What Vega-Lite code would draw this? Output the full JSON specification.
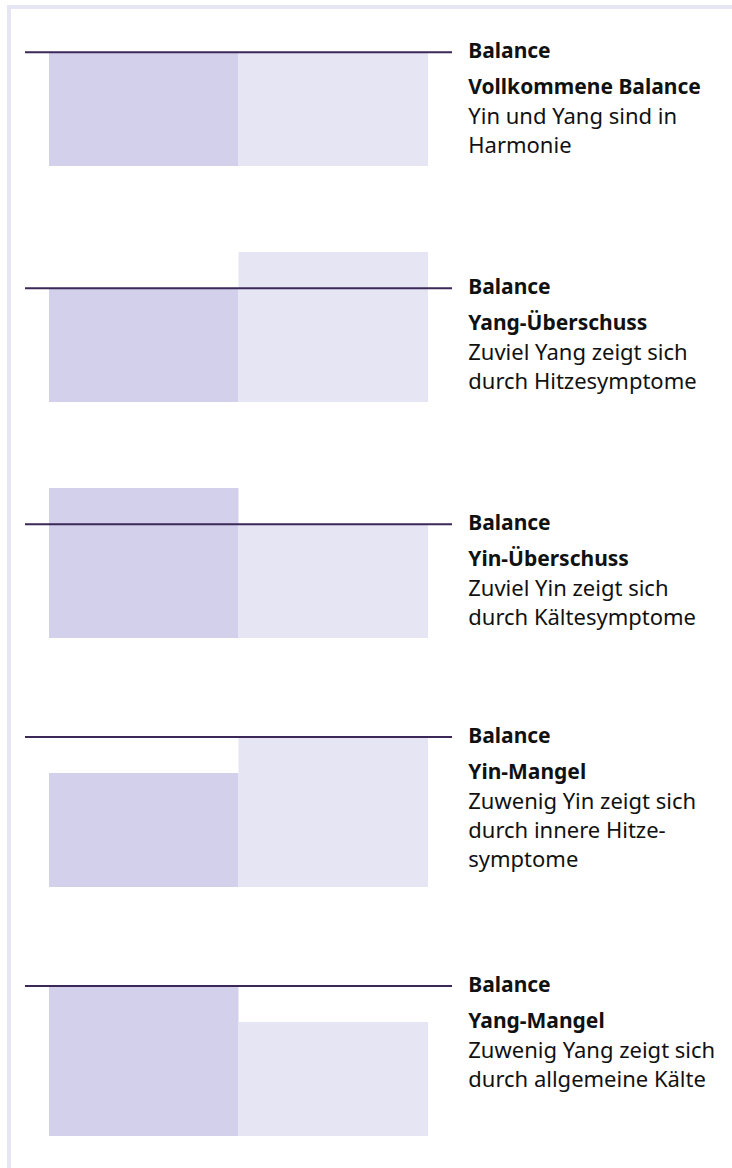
{
  "$schema": "https://vega.github.io/schema/vega-lite/v6.json",
  "padding": {"left": 7, "top": 5, "right": 0, "bottom": 0},
  "autosize": {"type": "pad"},
  "background": "white",
  "config": {
    "view": {"stroke": null},
    "text": {"font": "Noto Sans", "fontSize": 22, "color": "#111111"}
  },
  "datasets": {
    "bars": [
      {"panel": 1, "seite": "Yin", "wert": 100},
      {"panel": 1, "seite": "Yang", "wert": 100},
      {"panel": 2, "seite": "Yin", "wert": 100},
      {"panel": 2, "seite": "Yang", "wert": 132},
      {"panel": 3, "seite": "Yin", "wert": 132},
      {"panel": 3, "seite": "Yang", "wert": 100},
      {"panel": 4, "seite": "Yin", "wert": 76},
      {"panel": 4, "seite": "Yang", "wert": 100},
      {"panel": 5, "seite": "Yin", "wert": 100},
      {"panel": 5, "seite": "Yang", "wert": 76}
    ],
    "labels": [
      {"panel": 1, "balance": 100, "name": "Balance", "titel": "Vollkommene Balance", "text": "Yin und Yang sind in\nHarmonie"},
      {"panel": 2, "balance": 100, "name": "Balance", "titel": "Yang-Überschuss", "text": "Zuviel Yang zeigt sich\ndurch Hitzesymptome"},
      {"panel": 3, "balance": 100, "name": "Balance", "titel": "Yin-Überschuss", "text": "Zuviel Yin zeigt sich\ndurch Kältesymptome"},
      {"panel": 4, "balance": 100, "name": "Balance", "titel": "Yin-Mangel", "text": "Zuwenig Yin zeigt sich\ndurch innere Hitze-\nsymptome"},
      {"panel": 5, "balance": 100, "name": "Balance", "titel": "Yang-Mangel", "text": "Zuwenig Yang zeigt sich\ndurch allgemeine Kälte"}
    ],
    "blank": [{"x": 0}]
  },
  "spacing": 0,
  "bounds": "flush",
  "vconcat": [
    {
      "width": 725, "height": 4,
      "view": {"fill": "#e6e5f4", "stroke": null},
      "data": {"name": "blank"},
      "mark": {"type": "text", "fontSize": 0},
      "encoding": {"text": {"value": ""}}
    },
    {
      "spacing": 14,
      "bounds": "flush",
      "hconcat": [
        {
          "width": 4, "height": 1159,
          "view": {"fill": "#e6e5f4", "stroke": null},
          "data": {"name": "blank"},
          "mark": {"type": "text", "fontSize": 0},
          "encoding": {"text": {"value": ""}}
        },
        {
          "spacing": 86,
          "bounds": "flush",
          "vconcat": [
            {
              "width": 427, "height": 157,
              "layer": [
                {"data": {"name": "bars"}, "transform": [{"filter": "datum.panel == 1"}], "mark": {"type": "bar"},
                 "encoding": {
                   "x": {"field": "seite", "type": "nominal", "sort": ["Yin", "Yang"], "scale": {"paddingInner": 0, "paddingOuter": 0.1266}, "axis": null},
                   "y": {"field": "wert", "type": "quantitative", "scale": {"domain": [0, 138], "nice": false, "zero": true}, "axis": null},
                   "color": {"field": "seite", "type": "nominal", "scale": {"domain": ["Yin", "Yang"], "range": ["#d3d0eb", "#e6e5f4"]}, "legend": null}}},
                {"data": {"name": "labels"}, "transform": [{"filter": "datum.panel == 1"}], "mark": {"type": "rule", "color": "#3b2858", "strokeWidth": 2},
                 "encoding": {"y": {"field": "balance", "type": "quantitative"}}},
                {"data": {"name": "labels"}, "transform": [{"filter": "datum.panel == 1"}], "mark": {"type": "text", "align": "left", "baseline": "middle", "fontWeight": "bold", "fontSize": 21, "dx": 135},
                 "encoding": {"x": {"datum": "Yang", "type": "nominal"}, "y": {"field": "balance", "type": "quantitative"}, "text": {"field": "name"}}},
                {"data": {"name": "labels"}, "transform": [{"filter": "datum.panel == 1"}], "mark": {"type": "text", "align": "left", "baseline": "alphabetic", "fontWeight": "bold", "fontSize": 21, "dx": 135, "dy": 42},
                 "encoding": {"x": {"datum": "Yang", "type": "nominal"}, "y": {"field": "balance", "type": "quantitative"}, "text": {"field": "titel"}}},
                {"data": {"name": "labels"}, "transform": [{"filter": "datum.panel == 1"}], "mark": {"type": "text", "align": "left", "baseline": "alphabetic", "dx": 135, "dy": 72, "lineBreak": "\n", "lineHeight": 29},
                 "encoding": {"x": {"datum": "Yang", "type": "nominal"}, "y": {"field": "balance", "type": "quantitative"}, "text": {"field": "text"}}}
              ]
            },
            {
              "width": 427, "height": 150,
              "layer": [
                {"data": {"name": "bars"}, "transform": [{"filter": "datum.panel == 2"}], "mark": {"type": "bar"},
                 "encoding": {
                   "x": {"field": "seite", "type": "nominal", "sort": ["Yin", "Yang"], "scale": {"paddingInner": 0, "paddingOuter": 0.1266}, "axis": null},
                   "y": {"field": "wert", "type": "quantitative", "scale": {"domain": [0, 132], "nice": false, "zero": true}, "axis": null},
                   "color": {"field": "seite", "type": "nominal", "scale": {"domain": ["Yin", "Yang"], "range": ["#d3d0eb", "#e6e5f4"]}, "legend": null}}},
                {"data": {"name": "labels"}, "transform": [{"filter": "datum.panel == 2"}], "mark": {"type": "rule", "color": "#3b2858", "strokeWidth": 2},
                 "encoding": {"y": {"field": "balance", "type": "quantitative"}}},
                {"data": {"name": "labels"}, "transform": [{"filter": "datum.panel == 2"}], "mark": {"type": "text", "align": "left", "baseline": "middle", "fontWeight": "bold", "fontSize": 21, "dx": 135},
                 "encoding": {"x": {"datum": "Yang", "type": "nominal"}, "y": {"field": "balance", "type": "quantitative"}, "text": {"field": "name"}}},
                {"data": {"name": "labels"}, "transform": [{"filter": "datum.panel == 2"}], "mark": {"type": "text", "align": "left", "baseline": "alphabetic", "fontWeight": "bold", "fontSize": 21, "dx": 135, "dy": 42},
                 "encoding": {"x": {"datum": "Yang", "type": "nominal"}, "y": {"field": "balance", "type": "quantitative"}, "text": {"field": "titel"}}},
                {"data": {"name": "labels"}, "transform": [{"filter": "datum.panel == 2"}], "mark": {"type": "text", "align": "left", "baseline": "alphabetic", "dx": 135, "dy": 72, "lineBreak": "\n", "lineHeight": 29},
                 "encoding": {"x": {"datum": "Yang", "type": "nominal"}, "y": {"field": "balance", "type": "quantitative"}, "text": {"field": "text"}}}
              ]
            },
            {
              "spacing": 99,
              "bounds": "flush",
              "vconcat": [
                {
                  "width": 427, "height": 150,
                  "layer": [
                    {"data": {"name": "bars"}, "transform": [{"filter": "datum.panel == 3"}], "mark": {"type": "bar"},
                     "encoding": {
                       "x": {"field": "seite", "type": "nominal", "sort": ["Yin", "Yang"], "scale": {"paddingInner": 0, "paddingOuter": 0.1266}, "axis": null},
                       "y": {"field": "wert", "type": "quantitative", "scale": {"domain": [0, 132], "nice": false, "zero": true}, "axis": null},
                       "color": {"field": "seite", "type": "nominal", "scale": {"domain": ["Yin", "Yang"], "range": ["#d3d0eb", "#e6e5f4"]}, "legend": null}}},
                    {"data": {"name": "labels"}, "transform": [{"filter": "datum.panel == 3"}], "mark": {"type": "rule", "color": "#3b2858", "strokeWidth": 2},
                     "encoding": {"y": {"field": "balance", "type": "quantitative"}}},
                    {"data": {"name": "labels"}, "transform": [{"filter": "datum.panel == 3"}], "mark": {"type": "text", "align": "left", "baseline": "middle", "fontWeight": "bold", "fontSize": 21, "dx": 135},
                     "encoding": {"x": {"datum": "Yang", "type": "nominal"}, "y": {"field": "balance", "type": "quantitative"}, "text": {"field": "name"}}},
                    {"data": {"name": "labels"}, "transform": [{"filter": "datum.panel == 3"}], "mark": {"type": "text", "align": "left", "baseline": "alphabetic", "fontWeight": "bold", "fontSize": 21, "dx": 135, "dy": 42},
                     "encoding": {"x": {"datum": "Yang", "type": "nominal"}, "y": {"field": "balance", "type": "quantitative"}, "text": {"field": "titel"}}},
                    {"data": {"name": "labels"}, "transform": [{"filter": "datum.panel == 3"}], "mark": {"type": "text", "align": "left", "baseline": "alphabetic", "dx": 135, "dy": 72, "lineBreak": "\n", "lineHeight": 29},
                     "encoding": {"x": {"datum": "Yang", "type": "nominal"}, "y": {"field": "balance", "type": "quantitative"}, "text": {"field": "text"}}}
                  ]
                },
                {
                  "width": 427, "height": 150,
                  "layer": [
                    {"data": {"name": "bars"}, "transform": [{"filter": "datum.panel == 4"}], "mark": {"type": "bar"},
                     "encoding": {
                       "x": {"field": "seite", "type": "nominal", "sort": ["Yin", "Yang"], "scale": {"paddingInner": 0, "paddingOuter": 0.1266}, "axis": null},
                       "y": {"field": "wert", "type": "quantitative", "scale": {"domain": [0, 100], "nice": false, "zero": true}, "axis": null},
                       "color": {"field": "seite", "type": "nominal", "scale": {"domain": ["Yin", "Yang"], "range": ["#d3d0eb", "#e6e5f4"]}, "legend": null}}},
                    {"data": {"name": "labels"}, "transform": [{"filter": "datum.panel == 4"}], "mark": {"type": "rule", "color": "#3b2858", "strokeWidth": 2},
                     "encoding": {"y": {"field": "balance", "type": "quantitative"}}},
                    {"data": {"name": "labels"}, "transform": [{"filter": "datum.panel == 4"}], "mark": {"type": "text", "align": "left", "baseline": "middle", "fontWeight": "bold", "fontSize": 21, "dx": 135},
                     "encoding": {"x": {"datum": "Yang", "type": "nominal"}, "y": {"field": "balance", "type": "quantitative"}, "text": {"field": "name"}}},
                    {"data": {"name": "labels"}, "transform": [{"filter": "datum.panel == 4"}], "mark": {"type": "text", "align": "left", "baseline": "alphabetic", "fontWeight": "bold", "fontSize": 21, "dx": 135, "dy": 42},
                     "encoding": {"x": {"datum": "Yang", "type": "nominal"}, "y": {"field": "balance", "type": "quantitative"}, "text": {"field": "titel"}}},
                    {"data": {"name": "labels"}, "transform": [{"filter": "datum.panel == 4"}], "mark": {"type": "text", "align": "left", "baseline": "alphabetic", "dx": 135, "dy": 72, "lineBreak": "\n", "lineHeight": 29},
                     "encoding": {"x": {"datum": "Yang", "type": "nominal"}, "y": {"field": "balance", "type": "quantitative"}, "text": {"field": "text"}}}
                  ]
                },
                {
                  "width": 427, "height": 150,
                  "layer": [
                    {"data": {"name": "bars"}, "transform": [{"filter": "datum.panel == 5"}], "mark": {"type": "bar"},
                     "encoding": {
                       "x": {"field": "seite", "type": "nominal", "sort": ["Yin", "Yang"], "scale": {"paddingInner": 0, "paddingOuter": 0.1266}, "axis": null},
                       "y": {"field": "wert", "type": "quantitative", "scale": {"domain": [0, 100], "nice": false, "zero": true}, "axis": null},
                       "color": {"field": "seite", "type": "nominal", "scale": {"domain": ["Yin", "Yang"], "range": ["#d3d0eb", "#e6e5f4"]}, "legend": null}}},
                    {"data": {"name": "labels"}, "transform": [{"filter": "datum.panel == 5"}], "mark": {"type": "rule", "color": "#3b2858", "strokeWidth": 2},
                     "encoding": {"y": {"field": "balance", "type": "quantitative"}}},
                    {"data": {"name": "labels"}, "transform": [{"filter": "datum.panel == 5"}], "mark": {"type": "text", "align": "left", "baseline": "middle", "fontWeight": "bold", "fontSize": 21, "dx": 135},
                     "encoding": {"x": {"datum": "Yang", "type": "nominal"}, "y": {"field": "balance", "type": "quantitative"}, "text": {"field": "name"}}},
                    {"data": {"name": "labels"}, "transform": [{"filter": "datum.panel == 5"}], "mark": {"type": "text", "align": "left", "baseline": "alphabetic", "fontWeight": "bold", "fontSize": 21, "dx": 135, "dy": 42},
                     "encoding": {"x": {"datum": "Yang", "type": "nominal"}, "y": {"field": "balance", "type": "quantitative"}, "text": {"field": "titel"}}},
                    {"data": {"name": "labels"}, "transform": [{"filter": "datum.panel == 5"}], "mark": {"type": "text", "align": "left", "baseline": "alphabetic", "dx": 135, "dy": 72, "lineBreak": "\n", "lineHeight": 29},
                     "encoding": {"x": {"datum": "Yang", "type": "nominal"}, "y": {"field": "balance", "type": "quantitative"}, "text": {"field": "text"}}}
                  ]
                }
              ]
            }
          ]
        }
      ]
    }
  ]
}
